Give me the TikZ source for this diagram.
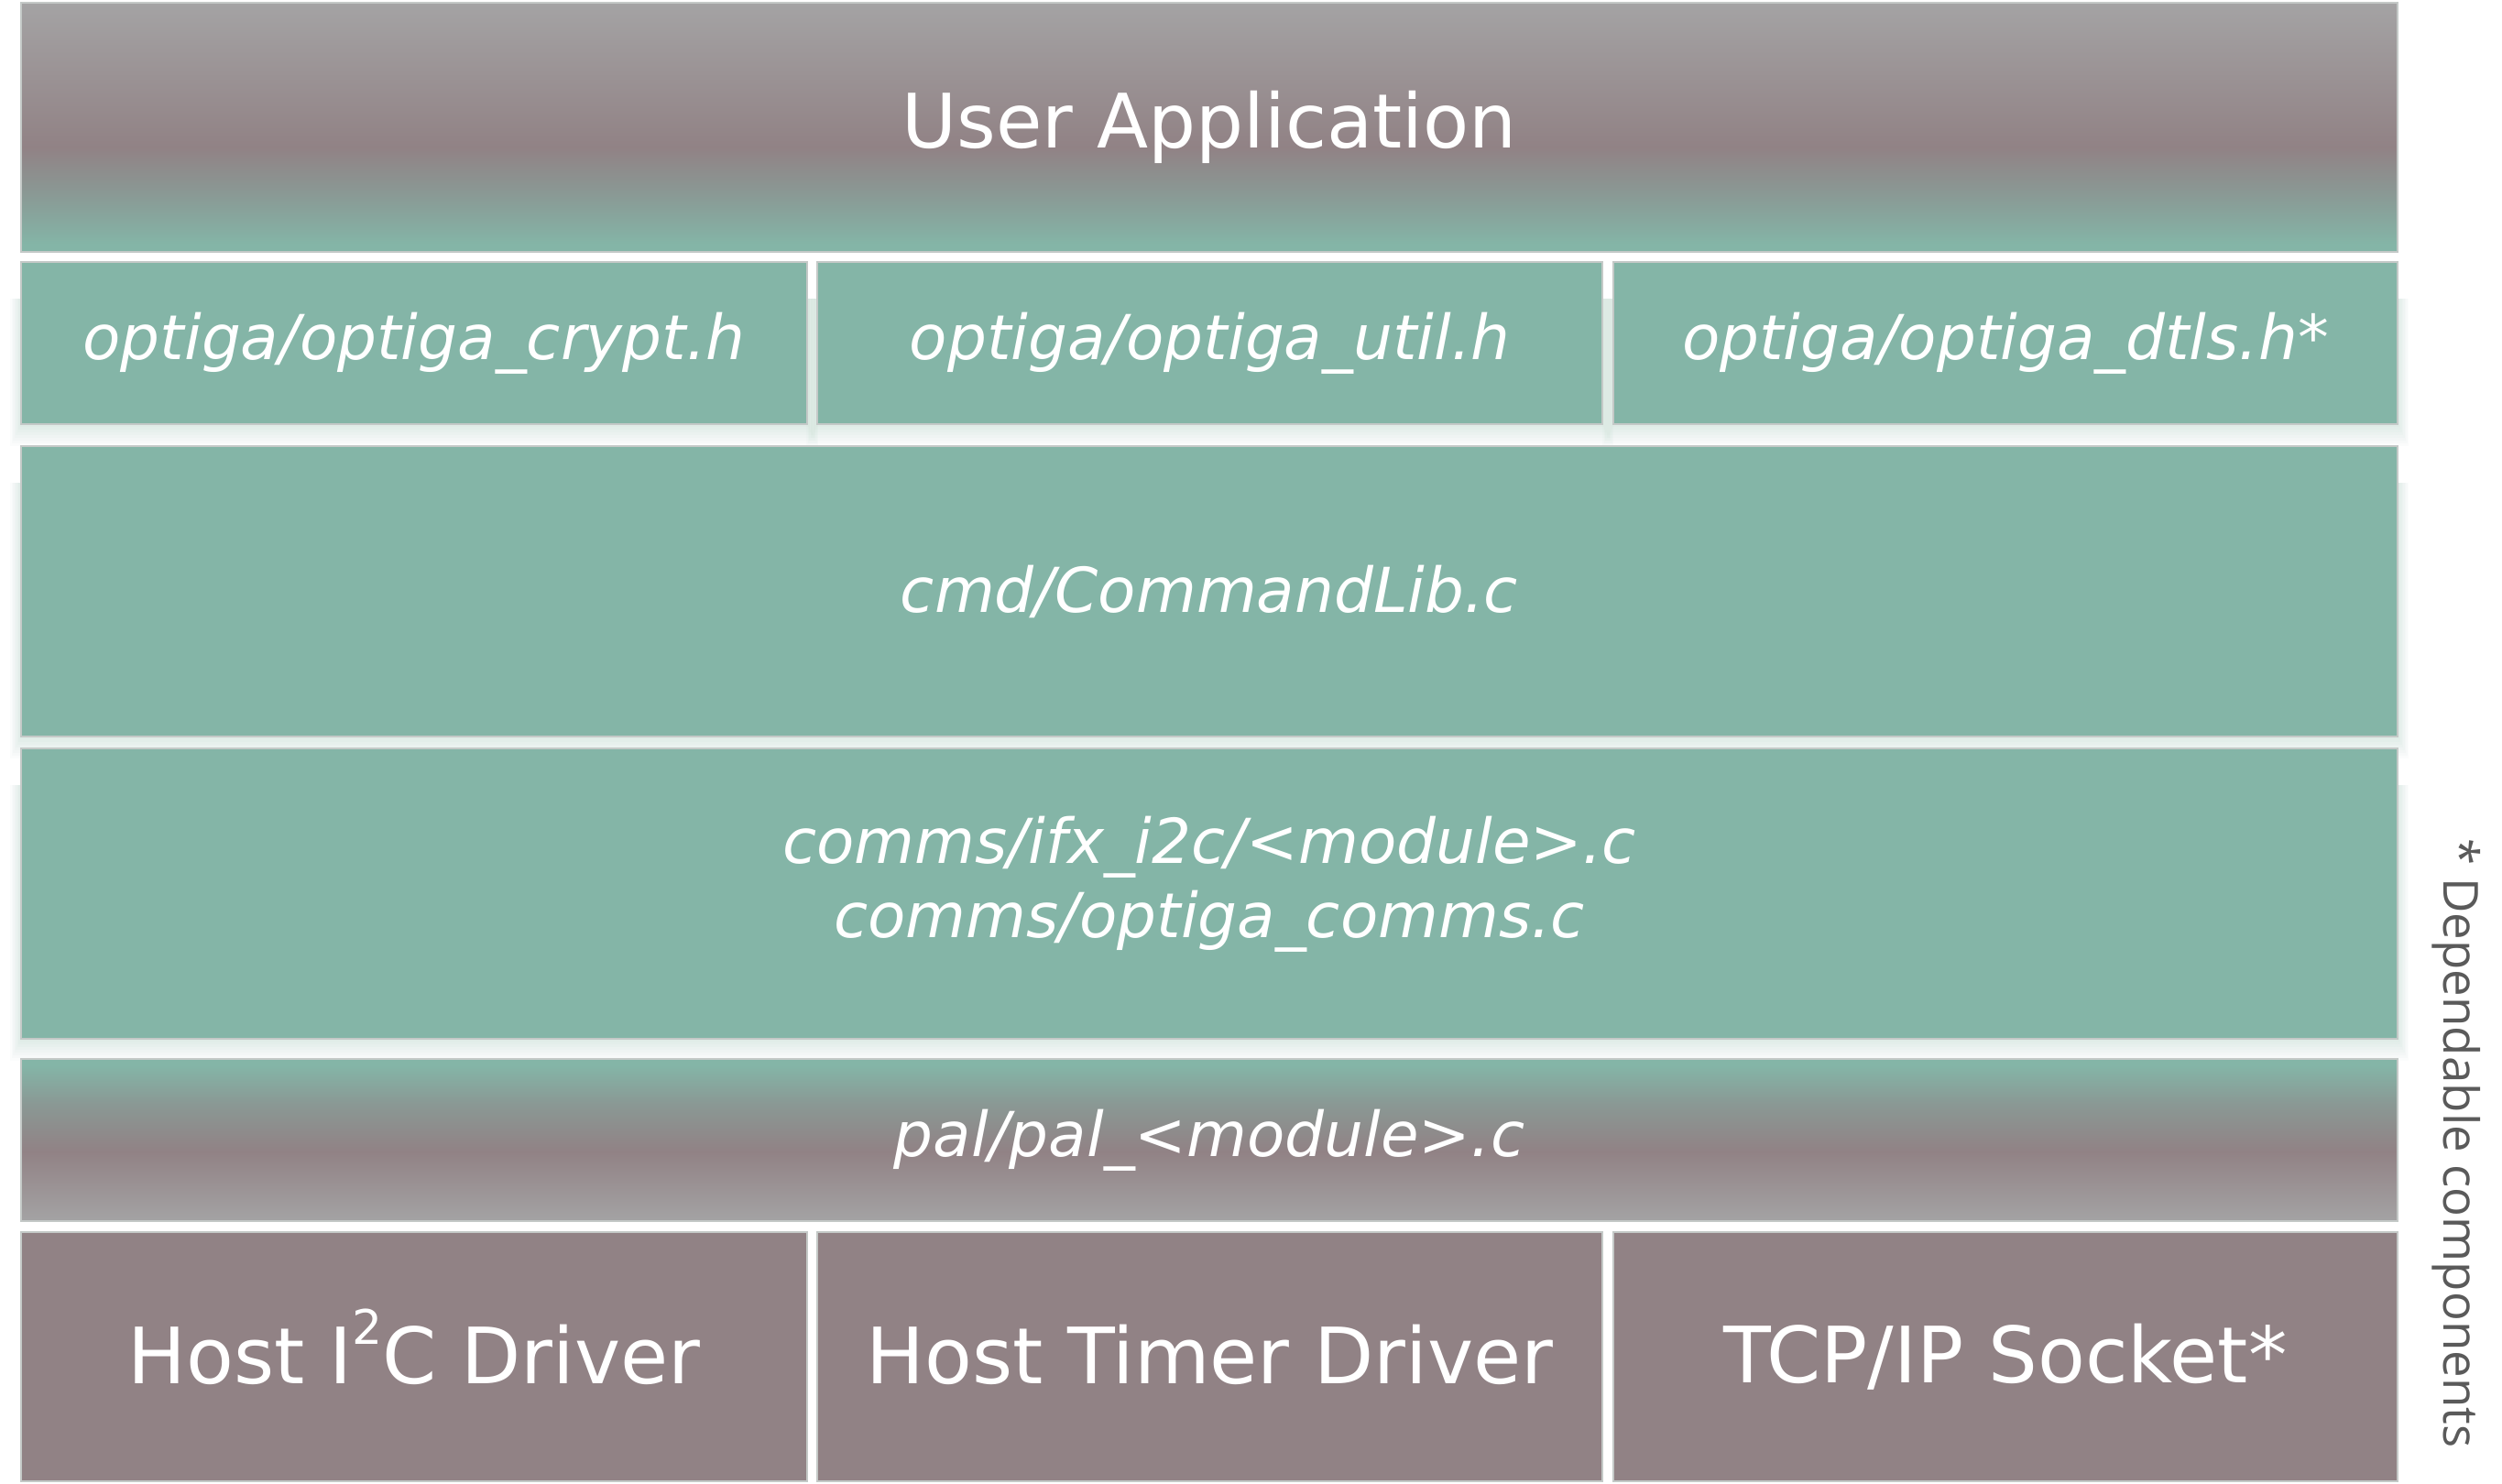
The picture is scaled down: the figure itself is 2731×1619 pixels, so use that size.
\documentclass[tikz,border=0pt]{standalone}
\usepackage{fontspec}
\setmainfont{DejaVu Sans}[ItalicFont={DejaVu Sans Oblique}]
\newfontfamily\notefont{Open Sans}
\definecolor{tealc}{RGB}{132,181,167}
\definecolor{mauvec}{RGB}{145,130,133}
\definecolor{grayc}{RGB}{164,163,164}
\definecolor{midc}{RGB}{138,152,148}
\definecolor{edgec}{RGB}{196,201,199}
\definecolor{notec}{RGB}{90,90,90}
\definecolor{shadowc}{RGB}{120,175,150}
\pgfdeclareverticalshading{topshade}{100bp}{color(0bp)=(tealc); color(25bp)=(tealc); color(26.5bp)=(tealc); color(37bp)=(midc); color(46bp)=(mauvec); color(75bp)=(grayc); color(100bp)=(grayc)}
\pgfdeclareverticalshading{palshade}{100bp}{color(0bp)=(grayc); color(25bp)=(grayc); color(46.5bp)=(mauvec); color(61bp)=(midc); color(73bp)=(tealc); color(75bp)=(tealc); color(100bp)=(tealc)}
\tikzset{
  layer/.style={draw=edgec, line width=0.7pt, inner sep=0pt, outer sep=0pt, anchor=north west, text=white},
  itfont/.style={font=\itshape\fontsize{16.9}{20.2}\selectfont},
  tealbox/.style={layer, fill=tealc, itfont},
  mauvebox/.style={layer, fill=mauvec, font=\fontsize{21.2}{25}\selectfont},
  shadlayer/.style={fill=shadowc, fill opacity=0.026, draw=none},
}
\newcommand{\softshadow}[4]{%
  \foreach \e in {3,6,9,12,15,18,21,24}{%
    \fill[shadlayer] ({#1-0.5*\e},{#2+40}) rectangle ({#3+0.5*\e},{#4+\e});
  }%
}
\newcommand{\supertwo}{\raisebox{0.5em}[0pt][0pt]{\fontsize{13}{14}\selectfont 2}}
\newcommand{\lift}[1]{\raisebox{1.6pt}{#1}}
\begin{document}
\begin{tikzpicture}[x=0.25pt, y=-0.25pt]
\useasboundingbox (0,0) rectangle (2731,1619);
\fill[white] (0,0) rectangle (2731,1619);
% soft shadows under the teal layers
\softshadow{23}{286}{881}{463}
\softshadow{892}{286}{1749}{463}
\softshadow{1761}{286}{2617}{463}
\softshadow{23}{487}{2617}{804}
\softshadow{23}{817}{2617}{1134}
% layers
\node[layer, shading=topshade, minimum width=648.5pt, minimum height=68pt, font=\fontsize{20.5}{24}\selectfont] (app) at (23,3) {User Application};
\node[tealbox, minimum width=214.5pt, minimum height=44.25pt] (crypt) at (23,286) {optiga/optiga\_crypt.h};
\node[tealbox, minimum width=214.25pt, minimum height=44.25pt] (util) at (892,286) {optiga/optiga\_util.h};
\node[tealbox, minimum width=214pt, minimum height=44.25pt] (dtls) at (1761,286) {\raisebox{-1pt}{optiga/optiga\_dtls.h*}};
\node[tealbox, minimum width=648.5pt, minimum height=79.25pt] (cmd) at (23,487) {cmd/CommandLib.c};
\node[tealbox, minimum width=648.5pt, minimum height=79.25pt] (comms) at (23,817) {};
\node[text=white, itfont, align=center, inner sep=0pt] (commstext) at (1320,965) {comms/ifx\_i2c/<module>.c\\comms/optiga\_comms.c};
\node[layer, shading=palshade, minimum width=648.5pt, minimum height=44.25pt, itfont] (pal) at (23,1156) {pal/pal\_<module>.c};
\node[mauvebox, minimum width=214.5pt, minimum height=68pt] (i2c) at (23,1345) {\lift{Host I\supertwo C Driver}};
\node[mauvebox, minimum width=214.25pt, minimum height=68pt] (timer) at (892,1345) {\lift{Host Timer Driver}};
\node[mauvebox, minimum width=214pt, minimum height=68pt] (tcp) at (1761,1345) {\lift{TCP/IP Socket*}};
% note
\node[rotate=-90, text=notec, font=\notefont\fontsize{13.2}{15}\selectfont, inner sep=0pt] (note) at (2681,1248) {* Dependable components};
\end{tikzpicture}
\end{document}
